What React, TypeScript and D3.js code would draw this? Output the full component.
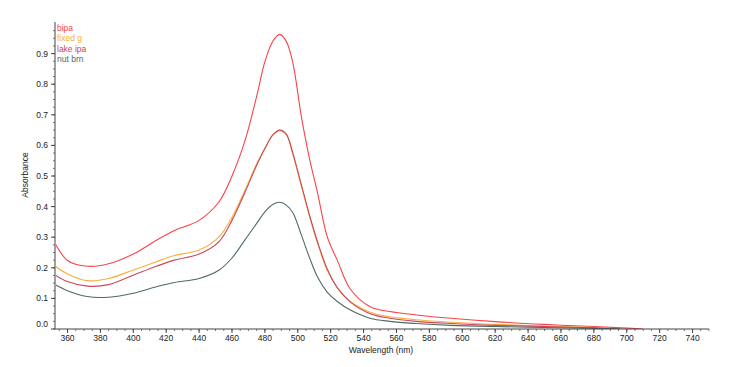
import React from "react";
import * as d3 from "d3";

const wavelengths = [350, 360, 372, 385, 400, 414, 425, 440, 452, 460, 468, 475, 480, 485, 489, 493, 497, 502, 507, 512, 518, 524, 532, 544, 556, 572, 593, 620, 650, 680, 700, 710];

const bipa = [0.305, 0.224, 0.205, 0.213, 0.245, 0.29, 0.322, 0.355, 0.415, 0.5, 0.617, 0.76, 0.874, 0.942, 0.963, 0.94, 0.87, 0.7, 0.56, 0.445, 0.3, 0.225, 0.13, 0.073, 0.057, 0.046, 0.035, 0.024, 0.015, 0.008, 0.003, 0.0];
const fixedG = [0.215, 0.18, 0.158, 0.165, 0.193, 0.22, 0.24, 0.258, 0.3, 0.365, 0.455, 0.54, 0.59, 0.635, 0.648, 0.635, 0.57, 0.47, 0.37, 0.28, 0.19, 0.135, 0.09, 0.055, 0.04, 0.03, 0.022, 0.015, 0.01, 0.005, 0.0, 0.0];
const lakeIpa = [0.185, 0.155, 0.14, 0.145, 0.176, 0.205, 0.225, 0.245, 0.285, 0.355, 0.448, 0.535, 0.59, 0.635, 0.65, 0.637, 0.575, 0.475, 0.375, 0.285, 0.195, 0.135, 0.088, 0.05, 0.035, 0.025, 0.018, 0.012, 0.008, 0.004, 0.0, 0.0];
const nutBrn = [0.152, 0.125, 0.106, 0.104, 0.117, 0.138, 0.152, 0.165, 0.192, 0.232, 0.292, 0.345, 0.383, 0.408, 0.414, 0.405, 0.38, 0.31, 0.235, 0.17, 0.12, 0.09, 0.062, 0.035, 0.025, 0.018, 0.012, 0.008, 0.005, 0.002, 0.0, 0.0];

const seriesNames = ["bipa", "fixed g", "lake ipa", "nut brn"];
const seriesValues = [bipa, fixedG, lakeIpa, nutBrn];
const seriesColors = ["#f8434b", "#f7b040", "#c9485a", "#4d6b66"];
const seriesEnds = [710, 696, 696, 696];

const xTicks = [360, 380, 400, 420, 440, 460, 480, 500, 520, 540, 560, 580, 600, 620, 640, 660, 680, 700, 720, 740];
const yTicks = [0.0, 0.1, 0.2, 0.3, 0.4, 0.5, 0.6, 0.7, 0.8, 0.9];

const W = 750;
const H = 367;
const left = 55;
const right = 709;
const top = 22;
const bottom = 329;

export default function App() {
  const x = d3.scaleLinear().domain([352.4, 750]).range([left, right]);
  const y = d3.scaleLinear().domain([0, 1.0033]).range([bottom, top]);
  const font = "'Liberation Sans', Arial, sans-serif";

  const minorX = d3.range(355, 751, 5).filter((v) => x(v) <= right + 0.5);
  const minorY = d3.range(0, 1.0, 0.025);

  const lines = seriesValues.map((vals, i) => {
    const pts = wavelengths
      .map((w, j) => [w, vals[j]] as [number, number])
      .filter((p) => p[0] <= seriesEnds[i] || p[0] === wavelengths.find((w) => w >= seriesEnds[i]));
    const gen = d3
      .line<[number, number]>()
      .x((d) => x(Math.min(d[0], seriesEnds[i])))
      .y((d) => y(Math.max(0, d[1])))
      .curve(d3.curveCatmullRom.alpha(0.5));
    return gen(pts) || "";
  });

  return (
    <svg width={W} height={H} style={{ position: "absolute", left: 0, top: 0, background: "#fff" }} fontFamily={font}>
      <defs>
        <clipPath id="plot">
          <rect x={left + 1} y={top} width={right - left} height={bottom - top} />
        </clipPath>
      </defs>
      <g clipPath="url(#plot)">
        {lines.map((d, i) => (
          <path key={i} d={d} fill="none" stroke={seriesColors[i]} strokeWidth={1.1} />
        ))}
      </g>
      <line x1={left} x2={left} y1={top} y2={bottom} stroke="#444" strokeWidth={1} />
      <line x1={left} x2={right} y1={bottom} y2={bottom} stroke="#444" strokeWidth={1} />
      {minorY.map((v, i) => (
        <line key={"my" + i} x1={left - 2} x2={left} y1={y(v)} y2={y(v)} stroke="#555" strokeWidth={0.8} />
      ))}
      {yTicks.map((v) => (
        <g key={"y" + v}>
          <line x1={left - 4} x2={left} y1={y(v)} y2={y(v)} stroke="#444" />
          <text x={left - 7} y={y(v) + 3 - (v === 0 ? 5 : 0)} fontSize={8.5} textAnchor="end" fill="#222">
            {v.toFixed(1)}
          </text>
        </g>
      ))}
      {minorX.map((v, i) => (
        <line key={"mx" + i} x1={x(v)} x2={x(v)} y1={bottom} y2={bottom + 2} stroke="#555" strokeWidth={0.8} />
      ))}
      {xTicks.map((v) => (
        <g key={"x" + v}>
          <line x1={x(v)} x2={x(v)} y1={bottom} y2={bottom + 4} stroke="#444" />
          <text x={x(v)} y={bottom + 12} fontSize={8.5} textAnchor="middle" fill="#222">
            {v}
          </text>
        </g>
      ))}
      <text x={381} y={353} fontSize={8.5} textAnchor="middle" fill="#222">
        Wavelength (nm)
      </text>
      <text transform={`translate(28,175) rotate(-90)`} fontSize={8.5} textAnchor="middle" fill="#222">
        Absorbance
      </text>
      {seriesNames.map((n, i) => (
        <text key={n} x={57} y={31 + i * 10.3} fontSize={8.5} fill={seriesColors[i]}>
          {n}
        </text>
      ))}
    </svg>
  );
}
